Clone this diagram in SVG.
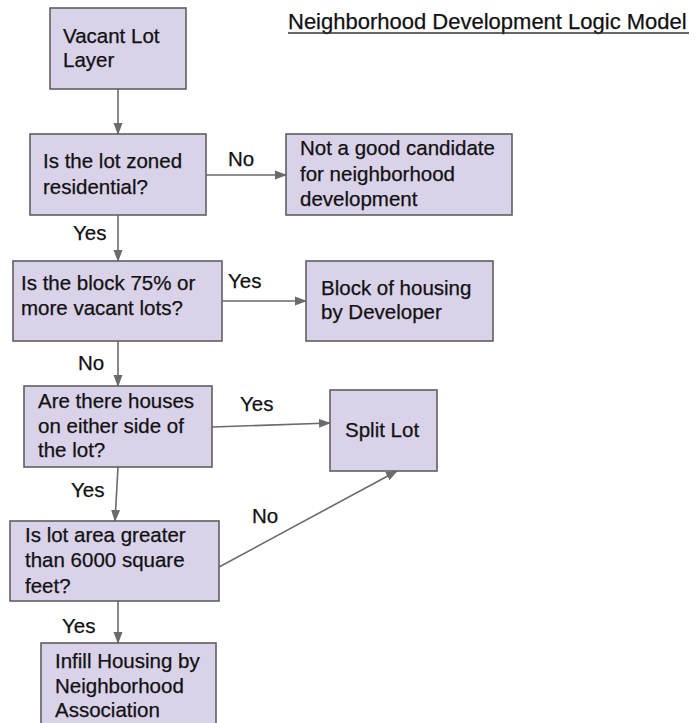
<svg xmlns="http://www.w3.org/2000/svg" width="696" height="723" viewBox="0 0 696 723">
<style>
.box{fill:#d9d2e9;stroke:#5f5f5f;stroke-width:1.6}
text{font-family:"Liberation Sans",Arial,sans-serif;font-size:20.5px;fill:#111;stroke:#111;stroke-width:0.25}
.lbl{font-size:20.5px}
.con{stroke:#6b6b6b;stroke-width:1.6;fill:none;marker-end:url(#ah)}
</style>
<defs>
<marker id="ah" markerUnits="userSpaceOnUse" markerWidth="12" markerHeight="10" viewBox="0 0 12 10" refX="11" refY="5" orient="auto">
<path d="M0,0.5 L12,5 L0,9.5 Z" fill="#6b6b6b"/>
</marker>
</defs>
<rect width="696" height="723" fill="#ffffff"/>
<g id="title">
<text x="288" y="29" style="font-size:22px">Neighborhood Development Logic Model</text>
<line x1="288" y1="33" x2="689" y2="33" stroke="#333" stroke-width="1.4"/>
</g>
<g id="connectors">
<line class="con" x1="118" y1="89" x2="118" y2="134"/>
<line class="con" x1="206" y1="175" x2="286" y2="175"/>
<line class="con" x1="118" y1="215" x2="118" y2="261"/>
<line class="con" x1="222" y1="301" x2="306" y2="301"/>
<line class="con" x1="118" y1="341" x2="118" y2="386"/>
<line class="con" x1="212" y1="427" x2="330" y2="423"/>
<line class="con" x1="118" y1="467" x2="115" y2="521"/>
<line class="con" x1="219" y1="567" x2="397" y2="471"/>
<line class="con" x1="118" y1="601" x2="118" y2="643"/>
<text class="lbl" x="228" y="166">No</text>
<text class="lbl" x="73" y="240">Yes</text>
<text class="lbl" x="228" y="288">Yes</text>
<text class="lbl" x="78" y="370">No</text>
<text class="lbl" x="240" y="411">Yes</text>
<text class="lbl" x="71" y="497">Yes</text>
<text class="lbl" x="252" y="523">No</text>
<text class="lbl" x="62" y="633">Yes</text>
</g>
<g id="n1">
<rect class="box" x="50" y="8" width="136" height="81"/>
<text x="63" y="43">Vacant Lot</text>
<text x="63" y="67">Layer</text>
</g>
<g id="n2">
<rect class="box" x="30" y="134" width="176" height="81"/>
<text x="43" y="168">Is the lot zoned</text>
<text x="43" y="194">residential?</text>
</g>
<g id="n3">
<rect class="box" x="286" y="134" width="226" height="81"/>
<text x="300" y="155">Not a good candidate</text>
<text x="300" y="181">for neighborhood</text>
<text x="300" y="206">development</text>
</g>
<g id="n4">
<rect class="box" x="13" y="261" width="209" height="80"/>
<text x="21" y="290">Is the block 75% or</text>
<text x="21" y="315">more vacant lots?</text>
</g>
<g id="n5">
<rect class="box" x="306" y="261" width="187" height="80"/>
<text x="321" y="295">Block of housing</text>
<text x="321" y="319">by Developer</text>
</g>
<g id="n6">
<rect class="box" x="24" y="386" width="188" height="81"/>
<text x="38" y="408">Are there houses</text>
<text x="38" y="433">on either side of</text>
<text x="38" y="457">the lot?</text>
</g>
<g id="n7">
<rect class="box" x="330" y="390" width="107" height="81"/>
<text x="345" y="437">Split Lot</text>
</g>
<g id="n8">
<rect class="box" x="10" y="521" width="209" height="80"/>
<text x="25" y="542">Is lot area greater</text>
<text x="25" y="567">than 6000 square</text>
<text x="25" y="593">feet?</text>
</g>
<g id="n9">
<rect class="box" x="41" y="643" width="175" height="95"/>
<text x="55" y="668">Infill Housing by</text>
<text x="55" y="693">Neighborhood</text>
<text x="55" y="717">Association</text>
</g>
</svg>
